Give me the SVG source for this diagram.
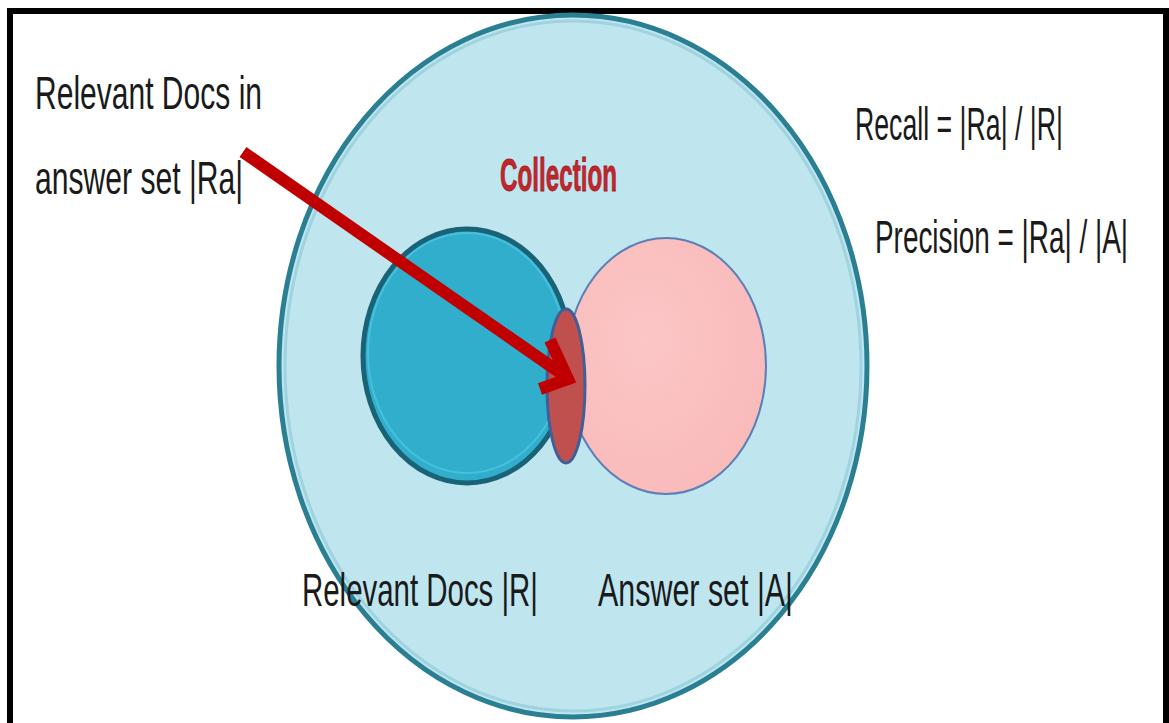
<svg xmlns="http://www.w3.org/2000/svg" width="1169" height="723" viewBox="0 0 1169 723">
<style>
.lbl{font-family:"Liberation Sans",Arial,sans-serif;fill:#1a1a1a;}
.coll{font-family:"Liberation Sans",Arial,sans-serif;font-weight:bold;fill:#c0272d;}
.arrow{fill:none;stroke:#c00000;stroke-width:12;}
</style>
<defs>
<radialGradient id="pinkG" cx="0.4" cy="0.4" r="0.7">
<stop offset="0" stop-color="#fcc6c6"/>
<stop offset="1" stop-color="#f9b9b9"/>
</radialGradient>
</defs>
<rect width="1169" height="723" fill="#ffffff"/>
<path d="M10,723 L10,11 L1166,11 L1166,723" fill="none" stroke="#000" stroke-width="6"/>

<g id="collection">
<ellipse cx="573" cy="366" rx="294" ry="351" fill="#bfe6ef" stroke="#2a7f92" stroke-width="5"/>
<ellipse cx="573" cy="366" rx="288" ry="345" fill="none" stroke="#9fd3e0" stroke-width="3"/>
<text class="coll" x="500" y="191" font-size="46" textLength="117" lengthAdjust="spacingAndGlyphs" stroke="#a01c22" stroke-width="0.8">Collection</text>
</g>

<g id="answer-set">
<ellipse cx="666" cy="366" rx="100" ry="128" fill="url(#pinkG)" stroke="#5b7fb6" stroke-width="2"/>
</g>

<g id="relevant-docs">
<ellipse cx="467" cy="356" rx="104" ry="127" fill="#32aecd" stroke="#1a6275" stroke-width="5"/>
<ellipse cx="467" cy="353" rx="99" ry="120" fill="none" stroke="#45c0dd" stroke-width="2"/>
</g>

<g id="intersection">
<ellipse cx="566" cy="386" rx="19" ry="77" fill="#c0504d" stroke="#3f5f98" stroke-width="3"/>
</g>

<g id="connectors">
<line class="arrow" x1="243" y1="152" x2="562" y2="374"/>
<polyline class="arrow" points="550,340 568,379 540,389" stroke-linejoin="miter"/>
</g>

<g id="labels">
<text class="lbl" x="35" y="109" font-size="46" textLength="227" lengthAdjust="spacingAndGlyphs">Relevant Docs in</text>
<text class="lbl" x="35" y="194" font-size="46" textLength="208" lengthAdjust="spacingAndGlyphs">answer set |Ra|</text>
<text class="lbl" x="855" y="140" font-size="46" textLength="208" lengthAdjust="spacingAndGlyphs">Recall = |Ra| / |R|</text>
<text class="lbl" x="875" y="253" font-size="46" textLength="253" lengthAdjust="spacingAndGlyphs">Precision = |Ra| / |A|</text>
<text class="lbl" x="302" y="606" font-size="46" textLength="236" lengthAdjust="spacingAndGlyphs">Relevant Docs |R|</text>
<text class="lbl" x="598" y="606" font-size="46" textLength="195" lengthAdjust="spacingAndGlyphs">Answer set |A|</text>
</g>
</svg>
